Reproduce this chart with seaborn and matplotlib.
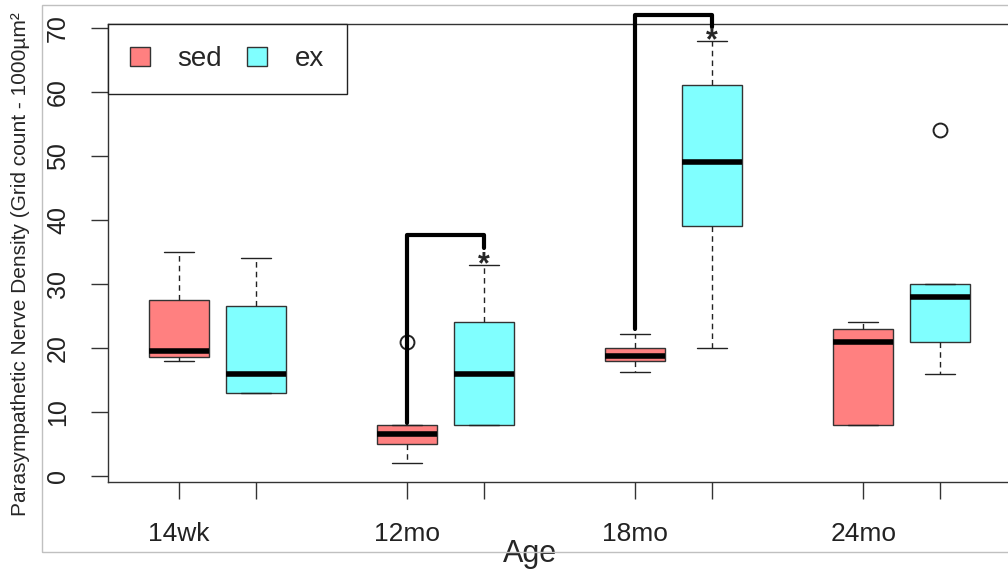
import pandas as pd
import matplotlib.pyplot as plt
import matplotlib.patches as mpatches
import seaborn as sns

# five values per box (min, q1, median, q3, max/outlier)
ages = ['14wk', '12mo', '18mo', '24mo']
sed_vals = [[18, 18.6, 19.5, 27.5, 35],
            [2, 5, 6.5, 8, 21],
            [16.2, 18, 18.8, 20, 22.2],
            [8, 8, 21, 23, 24]]
ex_vals = [[13, 13, 16, 26.5, 34],
           [8, 8, 16, 24, 33],
           [20, 39, 49, 61, 68],
           [16, 21, 28, 30, 54]]

# significance brackets (sed -> ex)
sig_ages = ['12mo', '18mo']
bracket_top = [37.6, 72.0]
bracket_left_end = [8.2, 22.9]
bracket_right_end = [35.6, 70.1]
star_y = [34, 69]

rows = []
for age, s, e in zip(ages, sed_vals, ex_vals):
    rows += [{'Age': age, 'group': 'sed', 'density': v} for v in s]
    rows += [{'Age': age, 'group': 'ex', 'density': v} for v in e]
df = pd.DataFrame(rows)

sns.set_style('white')
plt.rcParams['font.family'] = ['Liberation Sans', 'DejaVu Sans']

fig = plt.figure(figsize=(10.08, 5.72), dpi=100)
ax = fig.add_axes([0.1068, 0.1582, 0.9006, 0.7998])

width = 0.672
d = width / 4
sns.boxplot(data=df, x='Age', y='density', hue='group', order=ages,
            hue_order=['sed', 'ex'], palette={'sed': '#FF8080', 'ex': '#80FFFF'},
            width=width, gap=0.217, whis=1.5, linecolor='#333333', linewidth=1,
            saturation=1, ax=ax,
            medianprops=dict(color='black', linewidth=4),
            whiskerprops=dict(linestyle=(0, (4, 3)), color='#222222'),
            capprops=dict(color='#222222'),
            flierprops=dict(marker='o', markersize=10, markerfacecolor='none',
                            markeredgecolor='#222222', markeredgewidth=1.4))

# brackets and stars
for age, top, le, re, sy in zip(sig_ages, bracket_top, bracket_left_end,
                                bracket_right_end, star_y):
    i = ages.index(age)
    ax.plot([i - d, i - d, i + d, i + d], [le, top, top, re], color='black',
            lw=3, clip_on=False, zorder=5, solid_joinstyle='round')
    ax.annotate('*', (i + d, sy), xytext=(0, -5), textcoords='offset points',
                ha='center', va='center', fontsize=22, fontweight='bold',
                zorder=6)

ax.set_xlim(-0.4816, 3.5)
ax.set_ylim(-0.86, 70.58)
ax.set_yticks(range(0, 71, 10))
ticks = []
labels = []
for i, age in enumerate(ages):
    ticks += [i - d, i + d]
    labels += [age, '']
ax.set_xticks(ticks)
ax.set_xticklabels(labels)
ax.tick_params(axis='both', bottom=True, left=True, length=12, width=1,
               color='#333333', direction='out', pad=17, labelcolor='#222222')
ax.tick_params(axis='x', labelsize=19)
ax.tick_params(axis='y', labelsize=18, labelrotation=90, pad=15)
for lab in ax.get_yticklabels():
    lab.set_va('center')

for sp in ax.spines.values():
    sp.set_color('#333333')
    sp.set_linewidth(1)

ax.set_xlabel('Age', fontsize=22)
ax.xaxis.set_label_coords(0.465, -0.125)
ax.set_ylabel('Parasympathetic Nerve Density (Grid count - 1000µm²', fontsize=15)
ax.yaxis.set_label_coords(-0.085, 0.475)

handles, labs = ax.get_legend_handles_labels()
leg = ax.legend(handles, labs, loc='upper left', bbox_to_anchor=(0, 1),
                borderaxespad=0, ncol=2, fontsize=20, frameon=True, fancybox=False,
                framealpha=1, edgecolor='#222222', handlelength=0.72,
                handleheight=0.72, handletextpad=1.0, columnspacing=0.9,
                borderpad=0.8)
leg.get_frame().set_linewidth(1)

# grey screenshot border
fig.patches.append(mpatches.Rectangle((0.0417, 0.0341), 1.0, 0.958, fill=False,
                                      edgecolor='#c0c0c0', lw=1,
                                      transform=fig.transFigure))

fig.savefig('out.png', dpi=100)
